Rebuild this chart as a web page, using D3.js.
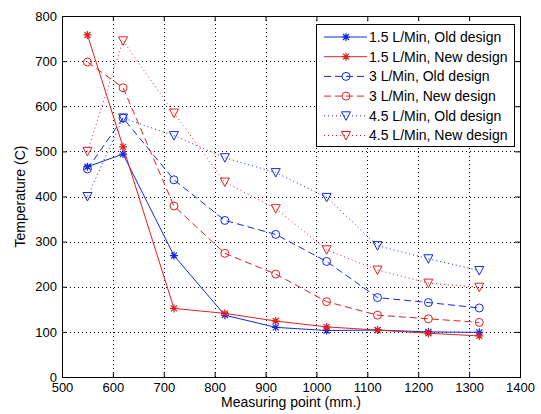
<!DOCTYPE html>
<html>
<head>
<meta charset="utf-8">
<script src="https://cdn.jsdelivr.net/npm/d3@7"></script>
<style>
  html, body { margin: 0; padding: 0; background: #fff; }
  svg { display: block; font-family: "Liberation Sans", Arial, sans-serif; }
</style>
</head>
<body>
<svg id="chart" width="541" height="414"></svg>
<script>
// ---- Data ----
const positions = [550, 620, 720, 820, 920, 1020, 1120, 1220, 1320];
const flow15Old = [466, 494, 269, 137, 110, 103, 104, 100, 99];
const flow15New = [758, 510, 152, 141, 124, 111, 104, 97, 91];
const flow3Old  = [461, 574, 437, 347, 316, 256, 176, 165, 153];
const flow3New  = [698, 641, 379, 274, 228, 167, 137, 129, 121];
const flow45Old = [400, 574, 535, 486, 453, 398, 291, 262, 236];
const flow45New = [500, 745, 585, 432, 373, 282, 237, 208, 199];
const seriesNames = [
  "1.5 L/Min, Old design", "1.5 L/Min, New design",
  "3 L/Min, Old design", "3 L/Min, New design",
  "4.5 L/Min, Old design", "4.5 L/Min, New design"
];
const xTicks = [500, 600, 700, 800, 900, 1000, 1100, 1200, 1300, 1400];
const yTicks = [0, 100, 200, 300, 400, 500, 600, 700, 800];
const xLabel = "Measuring point (mm.)";
const yLabel = "Temperature (C)";

// ---- Styles ----
const BLUE = "#1428e0", RED = "#e02020";
const series = [
  {name: seriesNames[0], values: flow15Old, color: BLUE, dash: null,  marker: "star"},
  {name: seriesNames[1], values: flow15New, color: RED,  dash: null,  marker: "star"},
  {name: seriesNames[2], values: flow3Old,  color: BLUE, dash: "7,4", marker: "circle"},
  {name: seriesNames[3], values: flow3New,  color: RED,  dash: "7,4", marker: "circle"},
  {name: seriesNames[4], values: flow45Old, color: BLUE, dash: "1,3", marker: "tri"},
  {name: seriesNames[5], values: flow45New, color: RED,  dash: "1,3", marker: "tri"}
];

const W = 541, H = 414;
const m = {left: 62, top: 16, right: 21, bottom: 37};
const iw = W - m.left - m.right, ih = H - m.top - m.bottom;

const svg = d3.select("#chart");
const g = svg.append("g").attr("transform", `translate(${m.left},${m.top})`);

const x = d3.scaleLinear().domain([500, 1400]).range([0, iw]);
const y = d3.scaleLinear().domain([0, 800]).range([ih, 0]);

// grid
g.append("g").selectAll("line").data(xTicks.slice(1, -1)).join("line")
  .attr("x1", d => Math.round(x(d)) + 0.5).attr("x2", d => Math.round(x(d)) + 0.5)
  .attr("y1", 0).attr("y2", ih)
  .attr("stroke", "#000").attr("stroke-width", 1).attr("stroke-dasharray", "1,3");
g.append("g").selectAll("line").data(yTicks.slice(1, -1)).join("line")
  .attr("y1", d => Math.round(y(d)) + 0.5).attr("y2", d => Math.round(y(d)) + 0.5)
  .attr("x1", 0).attr("x2", iw)
  .attr("stroke", "#000").attr("stroke-width", 1).attr("stroke-dasharray", "1,3");

// axes
const fmt = d3.format("d");
const axB = g.append("g").attr("transform", `translate(0,${ih})`)
  .call(d3.axisBottom(x).tickValues(xTicks).tickFormat(fmt).tickSizeInner(-5).tickSizeOuter(0).tickPadding(6));
const axL = g.append("g")
  .call(d3.axisLeft(y).tickValues(yTicks).tickFormat(fmt).tickSizeInner(-5).tickSizeOuter(0).tickPadding(5));
const axT = g.append("g")
  .call(d3.axisTop(x).tickValues(xTicks).tickFormat("").tickSizeInner(-5).tickSizeOuter(0));
const axR = g.append("g").attr("transform", `translate(${iw},0)`)
  .call(d3.axisRight(y).tickValues(yTicks).tickFormat("").tickSizeInner(-5).tickSizeOuter(0));
[axB, axL, axT, axR].forEach(a => {
  a.select(".domain").remove();
  a.selectAll("line").attr("stroke", "#000");
  a.selectAll("text").attr("font-size", 13).attr("fill", "#000")
    .attr("font-family", "'Liberation Sans', Arial, sans-serif");
});
// frame
g.append("rect").attr("x", 0.5).attr("y", 0.5).attr("width", iw).attr("height", ih)
  .attr("fill", "none").attr("stroke", "#000").attr("stroke-width", 1);

// markers
function drawMarker(sel, type, color) {
  if (type === "star") {
    const s = 4;
    sel.append("path")
      .attr("d", `M${-s},0L${s},0M0,${-s}L0,${s}M${-s*0.75},${-s*0.75}L${s*0.75},${s*0.75}M${-s*0.75},${s*0.75}L${s*0.75},${-s*0.75}`)
      .attr("stroke", color).attr("stroke-width", 1.2).attr("fill", "none");
  } else if (type === "circle") {
    sel.append("circle").attr("r", 4).attr("fill", "none").attr("stroke", color).attr("stroke-width", 1);
  } else {
    sel.append("path").attr("d", "M-4.5,-4L4.5,-4L0,4.5Z")
      .attr("fill", "none").attr("stroke", color).attr("stroke-width", 1);
  }
}

const line = d3.line().x((d, i) => x(positions[i])).y(d => y(d));
series.forEach(s => {
  g.append("path").datum(s.values).attr("d", line)
    .attr("fill", "none").attr("stroke", s.color).attr("stroke-width", 1)
    .attr("stroke-dasharray", s.dash);
  s.values.forEach((v, i) => {
    const mg = g.append("g").attr("transform", `translate(${x(positions[i])},${y(v)})`);
    drawMarker(mg, s.marker, s.color);
  });
});

// axis labels
svg.append("text").attr("x", m.left + iw / 2).attr("y", 407)
  .attr("text-anchor", "middle").attr("font-size", 14).text(xLabel);
svg.append("text").attr("transform", `translate(25,${m.top + ih / 2}) rotate(-90)`)
  .attr("text-anchor", "middle").attr("font-size", 14).text(yLabel);

// legend
const lg = svg.append("g");
lg.append("rect").attr("x", 316.5).attr("y", 24.5).attr("width", 198).attr("height", 122)
  .attr("fill", "#fff").attr("stroke", "#000").attr("stroke-width", 1);
series.forEach((s, i) => {
  const cy = 37 + i * 19.7;
  lg.append("line").attr("x1", 324).attr("x2", 367).attr("y1", cy).attr("y2", cy)
    .attr("stroke", s.color).attr("stroke-width", 1).attr("stroke-dasharray", s.dash);
  const mg = lg.append("g").attr("transform", `translate(346,${cy})`);
  drawMarker(mg, s.marker, s.color);
  lg.append("text").attr("x", 369).attr("y", cy).attr("dy", "0.35em")
    .attr("font-size", 14).text(s.name);
});
</script>
</body>
</html>
